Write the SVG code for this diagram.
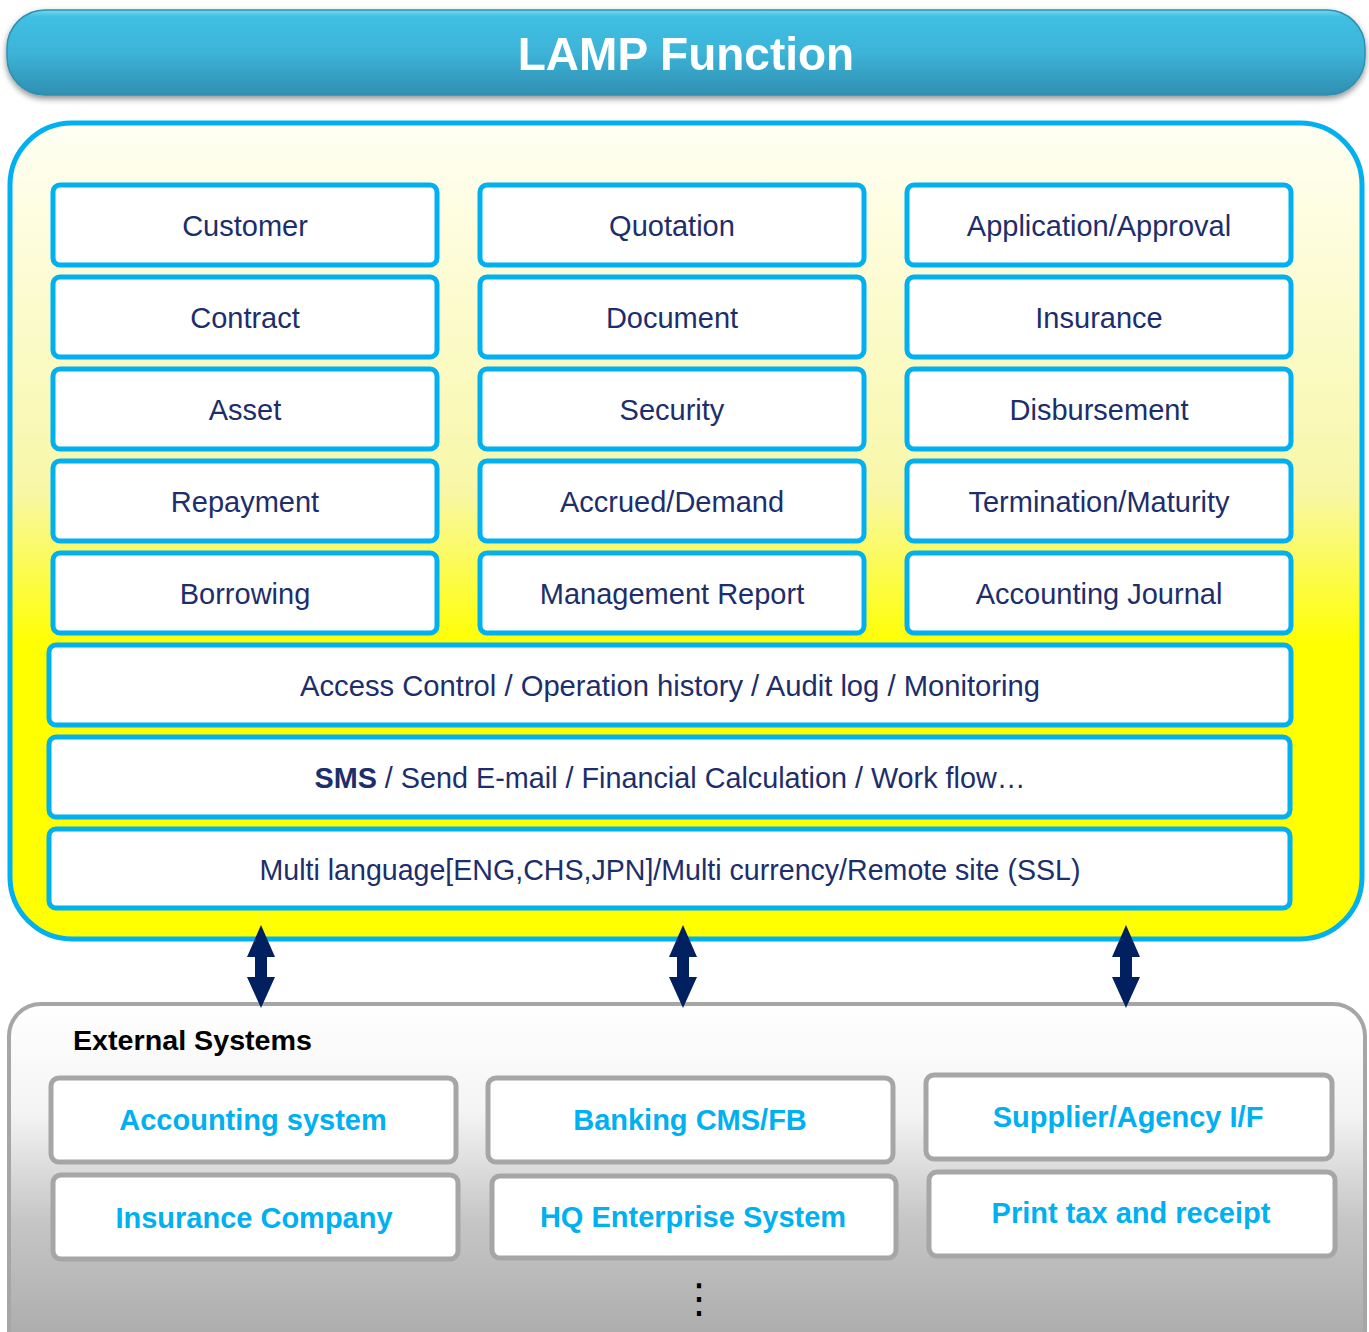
<svg xmlns="http://www.w3.org/2000/svg" width="1369" height="1332" viewBox="0 0 1369 1332">
<defs>
<linearGradient id="hdr" x1="0" y1="0" x2="0" y2="1">
<stop offset="0" stop-color="#72d9f2"/>
<stop offset="0.08" stop-color="#40bfe2"/>
<stop offset="0.5" stop-color="#3cb4d8"/>
<stop offset="1" stop-color="#2f8fb2"/>
</linearGradient>
<linearGradient id="main" x1="0" y1="0" x2="0" y2="1">
<stop offset="0" stop-color="#fffff4"/>
<stop offset="0.45" stop-color="#f8f7a8"/>
<stop offset="0.64" stop-color="#ffff00"/>
<stop offset="1" stop-color="#ffff00"/>
</linearGradient>
<linearGradient id="ext" x1="0" y1="0" x2="0" y2="1">
<stop offset="0" stop-color="#ffffff"/>
<stop offset="0.3" stop-color="#f4f4f4"/>
<stop offset="0.6" stop-color="#c6c6c6"/>
<stop offset="1" stop-color="#a6a6a6"/>
</linearGradient>
<filter id="sh" x="-5%" y="-20%" width="110%" height="150%">
<feGaussianBlur in="SourceAlpha" stdDeviation="3"/>
<feOffset dy="3" result="b"/>
<feComponentTransfer><feFuncA type="linear" slope="0.45"/></feComponentTransfer>
<feMerge><feMergeNode/><feMergeNode in="SourceGraphic"/></feMerge>
</filter>
</defs>
<style>
.mod{fill:#ffffff;stroke:#00b0f0;stroke-width:5}
.ext{fill:#ffffff;stroke:#a6a6a6;stroke-width:5}
.mt{font-family:"Liberation Sans",Arial,sans-serif;font-size:29px;fill:#1c2e6b;text-anchor:middle}
.et{font-family:"Liberation Sans",Arial,sans-serif;font-size:29px;font-weight:bold;fill:#00b0f0;text-anchor:middle}
.arr{fill:#002060}
</style>

<g id="header" filter="url(#sh)">
<rect x="7" y="10" width="1358" height="85" rx="38" fill="url(#hdr)" stroke="#2e8fae" stroke-width="1.5"/>
<text x="686" y="70" font-family="Liberation Sans,Arial,sans-serif" font-size="46" font-weight="bold" fill="#ffffff" text-anchor="middle">LAMP Function</text>
</g>

<g id="lamp-container">
<rect x="10" y="123" width="1352" height="816" rx="62" fill="url(#main)" stroke="#00b0f0" stroke-width="5"/>
</g>

<g id="customer"><rect class="mod" x="53" y="185" width="384" height="80" rx="7"/><text class="mt" x="245" y="236">Customer</text></g>
<g id="quotation"><rect class="mod" x="480" y="185" width="384" height="80" rx="7"/><text class="mt" x="672" y="236">Quotation</text></g>
<g id="application"><rect class="mod" x="907" y="185" width="384" height="80" rx="7"/><text class="mt" x="1099" y="236">Application/Approval</text></g>

<g id="contract"><rect class="mod" x="53" y="277" width="384" height="80" rx="7"/><text class="mt" x="245" y="328">Contract</text></g>
<g id="document"><rect class="mod" x="480" y="277" width="384" height="80" rx="7"/><text class="mt" x="672" y="328">Document</text></g>
<g id="insurance"><rect class="mod" x="907" y="277" width="384" height="80" rx="7"/><text class="mt" x="1099" y="328">Insurance</text></g>

<g id="asset"><rect class="mod" x="53" y="369" width="384" height="80" rx="7"/><text class="mt" x="245" y="420">Asset</text></g>
<g id="security"><rect class="mod" x="480" y="369" width="384" height="80" rx="7"/><text class="mt" x="672" y="420">Security</text></g>
<g id="disbursement"><rect class="mod" x="907" y="369" width="384" height="80" rx="7"/><text class="mt" x="1099" y="420">Disbursement</text></g>

<g id="repayment"><rect class="mod" x="53" y="461" width="384" height="80" rx="7"/><text class="mt" x="245" y="512">Repayment</text></g>
<g id="accrued"><rect class="mod" x="480" y="461" width="384" height="80" rx="7"/><text class="mt" x="672" y="512">Accrued/Demand</text></g>
<g id="termination"><rect class="mod" x="907" y="461" width="384" height="80" rx="7"/><text class="mt" x="1099" y="512">Termination/Maturity</text></g>

<g id="borrowing"><rect class="mod" x="53" y="553" width="384" height="80" rx="7"/><text class="mt" x="245" y="604">Borrowing</text></g>
<g id="mgmt-report"><rect class="mod" x="480" y="553" width="384" height="80" rx="7"/><text class="mt" x="672" y="604">Management Report</text></g>
<g id="acct-journal"><rect class="mod" x="907" y="553" width="384" height="80" rx="7"/><text class="mt" x="1099" y="604">Accounting Journal</text></g>

<g id="access-control"><rect class="mod" x="49" y="645" width="1242" height="80" rx="7"/><text class="mt" x="670" y="696" textLength="740" lengthAdjust="spacingAndGlyphs">Access Control / Operation history / Audit log / Monitoring</text></g>
<g id="sms"><rect class="mod" x="49" y="737" width="1241" height="80" rx="7"/><text class="mt" x="670" y="788" textLength="711" lengthAdjust="spacingAndGlyphs"><tspan font-weight="bold">SMS</tspan> / Send E-mail / Financial Calculation / Work flow…</text></g>
<g id="multi"><rect class="mod" x="49" y="829" width="1241" height="79" rx="7"/><text class="mt" x="670" y="880" textLength="821" lengthAdjust="spacingAndGlyphs">Multi language[ENG,CHS,JPN]/Multi currency/Remote site (SSL)</text></g>

<g id="external-container">
<rect x="9" y="1004" width="1356" height="360" rx="32" fill="url(#ext)" stroke="#a6a6a6" stroke-width="4"/>
<text x="73" y="1050" font-family="Liberation Sans,Arial,sans-serif" font-size="28" font-weight="bold" fill="#000000" textLength="239" lengthAdjust="spacingAndGlyphs">External Systems</text>
<text x="699" y="1312" font-family="DejaVu Sans,sans-serif" font-size="40" fill="#000000" text-anchor="middle">⋮</text>
</g>

<g id="accounting-system"><rect class="ext" x="51" y="1078" width="405" height="84" rx="8"/><text class="et" x="253" y="1130">Accounting system</text></g>
<g id="banking"><rect class="ext" x="488" y="1078" width="405" height="84" rx="8"/><text class="et" x="690" y="1130">Banking CMS/FB</text></g>
<g id="supplier"><rect class="ext" x="926" y="1075" width="406" height="84" rx="8"/><text class="et" x="1128" y="1127">Supplier/Agency I/F</text></g>
<g id="insurance-company"><rect class="ext" x="53" y="1175" width="405" height="84" rx="8"/><text class="et" x="254" y="1228">Insurance Company</text></g>
<g id="hq"><rect class="ext" x="492" y="1176" width="404" height="82" rx="8"/><text class="et" x="693" y="1227">HQ Enterprise System</text></g>
<g id="print-tax"><rect class="ext" x="929" y="1172" width="406" height="84" rx="8"/><text class="et" x="1131" y="1223">Print tax and receipt</text></g>

<g id="connectors">
<path class="arr" d="M261,925 L275,957 L267,957 L267,977 L275,977 L261,1008 L247,977 L255,977 L255,957 L247,957 Z"/>
<path class="arr" d="M683,925 L697,957 L689,957 L689,977 L697,977 L683,1008 L669,977 L677,977 L677,957 L669,957 Z"/>
<path class="arr" d="M1126,925 L1140,957 L1132,957 L1132,977 L1140,977 L1126,1008 L1112,977 L1120,977 L1120,957 L1112,957 Z"/>
</g>
</svg>
